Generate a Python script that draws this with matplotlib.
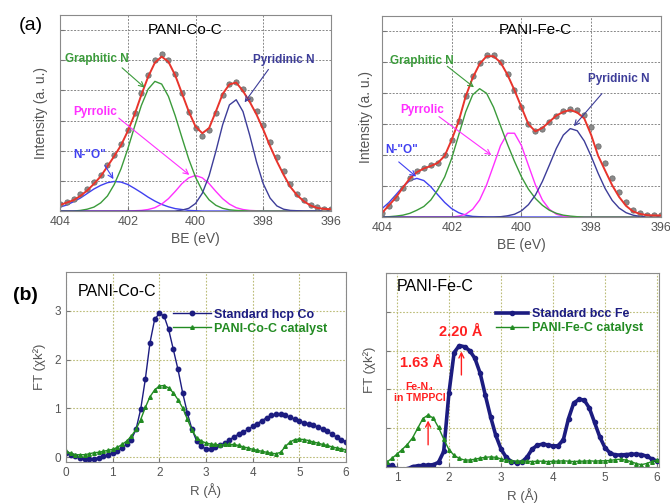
import numpy as np
import matplotlib
matplotlib.use("Agg")
import matplotlib.pyplot as plt

plt.rcParams['font.family'] = ['Liberation Sans', 'DejaVu Sans']

# ---------------- (a) XPS N1s ----------------
be = [404.0, 403.8, 403.6, 403.4, 403.2, 403.0, 402.8, 402.6, 402.4, 402.2,
      402.0, 401.8, 401.6, 401.4, 401.2, 401.0, 400.8, 400.6, 400.4, 400.2,
      400.0, 399.8, 399.6, 399.4, 399.2, 399.0, 398.8, 398.6, 398.4, 398.2,
      398.0, 397.8, 397.6, 397.4, 397.2, 397.0, 396.8, 396.6, 396.4, 396.2,
      396.0]

# PANI-Co-C
co_dots = [0.22, 0.30, 0.40, 0.55, 0.72, 0.95, 1.20, 1.52, 1.86, 2.22,
           2.70, 3.25, 3.90, 4.52, 5.00, 5.22, 5.02, 4.55, 3.92, 3.30,
           2.75, 2.50, 2.68, 3.25, 3.86, 4.20, 4.28, 4.05, 3.72, 3.32,
           2.85, 2.30, 1.80, 1.32, 0.90, 0.58, 0.35, 0.20, 0.12, 0.08,
           0.07]
co_fit = [0.20, 0.28, 0.36, 0.50, 0.68, 0.90, 1.15, 1.48, 1.82, 2.18,
          2.65, 3.20, 3.85, 4.45, 4.92, 5.12, 4.95, 4.50, 3.90, 3.30,
          2.80, 2.58, 2.75, 3.30, 3.88, 4.20, 4.26, 3.98, 3.62, 3.20,
          2.70, 2.15, 1.65, 1.20, 0.80, 0.52, 0.32, 0.18, 0.10, 0.07,
          0.06]
co_graph = [0.00, 0.00, 0.00, 0.02, 0.06, 0.13, 0.27, 0.50, 0.88, 1.40,
            2.06, 2.80, 3.50, 4.04, 4.30, 4.21, 3.80, 3.16, 2.43, 1.72,
            1.12, 0.67, 0.37, 0.19, 0.09, 0.04, 0.02, 0.01, 0.00, 0.00,
            0.00, 0.00, 0.00, 0.00, 0.00, 0.00, 0.00, 0.00, 0.00, 0.00,
            0.00]
co_no = [0.13, 0.20, 0.31, 0.43, 0.58, 0.73, 0.85, 0.94, 0.98, 0.96,
         0.88, 0.75, 0.61, 0.46, 0.33, 0.22, 0.14, 0.08, 0.05, 0.02,
         0.01, 0.00, 0.00, 0.00, 0.00, 0.00, 0.00, 0.00, 0.00, 0.00,
         0.00, 0.00, 0.00, 0.00, 0.00, 0.00, 0.00, 0.00, 0.00, 0.00,
         0.00]
co_pyrr = [0.00, 0.00, 0.00, 0.00, 0.00, 0.00, 0.00, 0.00, 0.00, 0.00,
           0.00, 0.01, 0.02, 0.05, 0.11, 0.23, 0.41, 0.65, 0.91, 1.10,
           1.18, 1.10, 0.91, 0.65, 0.41, 0.23, 0.11, 0.05, 0.02, 0.01,
           0.00, 0.00, 0.00, 0.00, 0.00, 0.00, 0.00, 0.00, 0.00, 0.00,
           0.00]
co_pyri = [0.00, 0.00, 0.00, 0.00, 0.00, 0.00, 0.00, 0.00, 0.00, 0.00,
           0.00, 0.00, 0.00, 0.00, 0.00, 0.00, 0.00, 0.00, 0.03, 0.09,
           0.25, 0.59, 1.17, 1.98, 2.86, 3.52, 3.69, 3.30, 2.51, 1.63,
           0.90, 0.43, 0.17, 0.06, 0.02, 0.01, 0.00, 0.00, 0.00, 0.00,
           0.00]

# PANI-Fe-C
fe_dots = [0.12, 0.35, 0.62, 0.95, 1.26, 1.48, 1.60, 1.68, 1.76, 2.00,
           2.50, 3.12, 3.92, 4.55, 4.98, 5.25, 5.25, 5.02, 4.62, 4.10,
           3.55, 3.00, 2.77, 2.86, 3.06, 3.27, 3.42, 3.50, 3.45, 3.30,
           2.90, 2.30, 1.75, 1.25, 0.82, 0.48, 0.24, 0.12, 0.07, 0.05,
           0.05]
fe_fit = [0.13, 0.38, 0.63, 0.95, 1.25, 1.45, 1.57, 1.65, 1.75, 1.98,
          2.50, 3.10, 3.90, 4.50, 4.95, 5.20, 5.20, 5.00, 4.60, 4.10,
          3.55, 3.00, 2.77, 2.88, 3.08, 3.28, 3.40, 3.46, 3.38, 3.19,
          2.65, 1.98, 1.50, 1.03, 0.65, 0.36, 0.18, 0.10, 0.06, 0.05,
          0.05]
fe_graph = [0.00, 0.01, 0.03, 0.06, 0.12, 0.22, 0.34, 0.55, 0.88, 1.30,
            1.90, 2.65, 3.40, 3.95, 4.15, 4.00, 3.55, 2.95, 2.35, 1.80,
            1.30, 0.90, 0.60, 0.38, 0.22, 0.12, 0.06, 0.03, 0.01, 0.00,
            0.00, 0.00, 0.00, 0.00, 0.00, 0.00, 0.00, 0.00, 0.00, 0.00,
            0.00]
fe_no = [0.27, 0.47, 0.72, 0.98, 1.18, 1.25, 1.18, 0.98, 0.72, 0.47,
         0.27, 0.14, 0.06, 0.02, 0.01, 0.00, 0.00, 0.00, 0.00, 0.00,
         0.00, 0.00, 0.00, 0.00, 0.00, 0.00, 0.00, 0.00, 0.00, 0.00,
         0.00, 0.00, 0.00, 0.00, 0.00, 0.00, 0.00, 0.00, 0.00, 0.00,
         0.00]
fe_pyrr = [0.00, 0.00, 0.00, 0.00, 0.00, 0.00, 0.00, 0.00, 0.00, 0.00,
           0.00, 0.03, 0.09, 0.25, 0.55, 1.04, 1.67, 2.31, 2.71, 2.71,
           2.31, 1.67, 1.04, 0.55, 0.25, 0.09, 0.03, 0.01, 0.00, 0.00,
           0.00, 0.00, 0.00, 0.00, 0.00, 0.00, 0.00, 0.00, 0.00, 0.00,
           0.00]
fe_pyri = [0.00, 0.00, 0.00, 0.00, 0.00, 0.00, 0.00, 0.00, 0.00, 0.00,
           0.00, 0.00, 0.00, 0.00, 0.00, 0.00, 0.00, 0.01, 0.04, 0.09,
           0.20, 0.40, 0.71, 1.15, 1.68, 2.22, 2.65, 2.86, 2.79, 2.46,
           1.96, 1.41, 0.92, 0.54, 0.29, 0.14, 0.06, 0.02, 0.01, 0.00,
           0.00]

# ---------------- (b) EXAFS FT ----------------
r_co = [0.0, 0.1, 0.2, 0.3, 0.4, 0.5, 0.6, 0.7, 0.8, 0.9, 1.0, 1.1, 1.2, 1.3,
        1.4, 1.5, 1.6, 1.7, 1.8, 1.9, 2.0, 2.1, 2.2, 2.3, 2.4, 2.5, 2.6, 2.7,
        2.8, 2.9, 3.0, 3.1, 3.2, 3.3, 3.4, 3.5, 3.6, 3.7, 3.8, 3.9, 4.0, 4.1,
        4.2, 4.3, 4.4, 4.5, 4.6, 4.7, 4.8, 4.9, 5.0, 5.1, 5.2, 5.3, 5.4, 5.5,
        5.6, 5.7, 5.8, 5.9, 6.0]
hcp_co = [0.09, 0.05, 0.02, -0.02, -0.04, -0.04, -0.03, -0.01, 0.02, 0.05,
          0.09, 0.13, 0.19, 0.26, 0.36, 0.57, 0.98, 1.60, 2.35, 2.83,
          2.95, 2.90, 2.62, 2.21, 1.80, 1.32, 0.91, 0.57, 0.33, 0.22,
          0.17, 0.17, 0.20, 0.24, 0.29, 0.35, 0.42, 0.47, 0.52, 0.57,
          0.63, 0.69, 0.75, 0.81, 0.86, 0.88, 0.88, 0.86, 0.82, 0.78,
          0.74, 0.71, 0.68, 0.65, 0.62, 0.58, 0.53, 0.47, 0.41, 0.36,
          0.32]
cat_co = [0.12, 0.08, 0.05, 0.05, 0.05, 0.07, 0.09, 0.10, 0.12, 0.14,
          0.16, 0.20, 0.26, 0.33, 0.43, 0.57, 0.77, 1.02, 1.24, 1.38,
          1.46, 1.47, 1.42, 1.32, 1.18, 1.01, 0.78, 0.55, 0.40, 0.33,
          0.29, 0.27, 0.26, 0.25, 0.26, 0.26, 0.26, 0.24, 0.21, 0.19,
          0.16, 0.14, 0.12, 0.10, 0.08, 0.07, 0.10, 0.22, 0.31, 0.36,
          0.37, 0.36, 0.34, 0.31, 0.29, 0.26, 0.24, 0.21, 0.19, 0.17,
          0.15]

r_fe = [0.8, 0.9, 1.0, 1.1, 1.2, 1.3, 1.4, 1.5, 1.6, 1.7, 1.8, 1.9, 2.0, 2.1,
        2.2, 2.3, 2.4, 2.5, 2.6, 2.7, 2.8, 2.9, 3.0, 3.1, 3.2, 3.3, 3.4, 3.5,
        3.6, 3.7, 3.8, 3.9, 4.0, 4.1, 4.2, 4.3, 4.4, 4.5, 4.6, 4.7, 4.8, 4.9,
        5.0, 5.1, 5.2, 5.3, 5.4, 5.5, 5.6, 5.7, 5.8, 5.9, 6.0]
bcc_fe = [0.05, 0.04, -0.05, -0.08, -0.05, 0.01, 0.03, 0.04, 0.05, 0.06,
          0.12, 0.40, 1.90, 2.95, 3.13, 3.10, 3.00, 2.80, 2.42, 1.85,
          1.30, 0.82, 0.47, 0.25, 0.14, 0.11, 0.13, 0.25, 0.46, 0.56,
          0.59, 0.57, 0.54, 0.55, 0.70, 1.25, 1.65, 1.74, 1.73, 1.52,
          1.15, 0.78, 0.50, 0.36, 0.31, 0.31, 0.32, 0.33, 0.33, 0.32,
          0.28, 0.21, 0.15]
cat_fe = [0.12, 0.22, 0.33, 0.45, 0.58, 0.75, 1.00, 1.25, 1.34, 1.26,
          1.02, 0.72, 0.45, 0.30, 0.22, 0.18, 0.18, 0.20, 0.23, 0.25,
          0.26, 0.25, 0.21, 0.18, 0.16, 0.15, 0.15, 0.15, 0.14, 0.15,
          0.15, 0.14, 0.15, 0.15, 0.16, 0.15, 0.14, 0.15, 0.15, 0.16,
          0.15, 0.16, 0.16, 0.17, 0.19, 0.20, 0.18, 0.14, 0.09, 0.06,
          0.09, 0.14, 0.18]

# colours
c_fit = '#e8342c'
c_dot = '#8a8a8a'
c_graph = '#3b9b3b'
c_pyri = '#3d3d99'
c_no = '#4040f0'
c_pyrr = '#ff30ff'
c_navy = '#1c1c80'
c_green = '#228b22'
grey_txt = '#555555'


def xps_panel(ax, dots, fit, graph, no, pyrr, pyri, title, labels, lpad):
    ax.plot(be, no, color=c_no, lw=1.0)
    ax.plot(be, pyrr, color=c_pyrr, lw=1.0)
    ax.plot(be, graph, color=c_graph, lw=1.0)
    ax.plot(be, pyri, color=c_pyri, lw=1.0)
    ax.plot(be, dots, 'o', color=c_dot, mec='#6f6f6f', ms=3.8, mew=0.6)
    ax.plot(be, fit, color=c_fit, lw=1.4)
    ax.set_xlim(404, 396)
    ax.set_ylim(0, 6.5)
    ax.set_xticks([404, 402, 400, 398, 396])
    ax.set_yticks([0, 1, 2, 3, 4, 5, 6])
    ax.set_yticklabels([])
    ax.grid(True, color='#888888', ls=(0, (2, 1.5)), lw=0.7)
    ax.tick_params(direction='in', length=3, colors='#777777',
                   labelcolor=grey_txt, labelsize=9)
    for s in ax.spines.values():
        s.set_color('#8a8a8a')
    ax.set_xlabel('BE (eV)', fontsize=10, color=grey_txt, labelpad=3)
    ax.set_ylabel('Intensity (a. u.)', fontsize=10, color=grey_txt,
                  labelpad=lpad)
    ax.text(title[1], title[2], title[0], fontsize=11, ha='center',
            va='center', color='black')
    for txt, col, pos, start, end in labels:
        ax.text(pos[0], pos[1], txt, color=col, fontsize=8.5,
                fontweight='bold', ha='left', va='center')
        ax.annotate('', xy=end, xytext=start,
                    arrowprops=dict(arrowstyle='->', color=col, lw=0.8,
                                    mutation_scale=9))


fig = plt.figure(figsize=(6.7, 5.04), dpi=100)

ax1 = fig.add_axes([0.0896, 0.5813, 0.4045, 0.3889])
xps_panel(ax1, co_dots, co_fit, co_graph, co_no, co_pyrr, co_pyri,
          ('PANI-Co-C', 400.3, 6.0),
          [('Graphitic N', c_graph, (403.85, 5.03), (402.23, 4.81), (401.44, 4.03)),
           ('Pyridinic N', c_pyri, (398.3, 5.0), (397.8, 4.77), (398.6, 3.53)),
           ('Pyrrolic', c_pyrr, (403.62, 3.3), (402.33, 3.14), (400.12, 1.14)),
           ('N-"O"', c_no, (403.62, 1.87), (402.72, 1.59), (402.38, 0.98))],
          5)

ax2 = fig.add_axes([0.5701, 0.5694, 0.4164, 0.3988])
xps_panel(ax2, fe_dots, fe_fit, fe_graph, fe_no, fe_pyrr, fe_pyri,
          ('PANI-Fe-C', 399.6, 6.06),
          [('Graphitic N', c_graph, (403.77, 5.06), (402.19, 4.93), (401.3, 4.14)),
           ('Pyridinic N', c_pyri, (398.08, 4.47), (397.64, 4.06), (398.55, 2.87)),
           ('Pyrrolic', c_pyrr, (403.48, 3.46), (402.43, 3.30), (400.8, 1.95)),
           ('N-"O"', c_no, (403.91, 2.17), (403.58, 1.84), (402.96, 1.25))],
          3)


def ft_style(ax):
    ax.grid(True, color='#bcbc78', ls=(0, (1.5, 1.5)), lw=0.8)
    ax.tick_params(direction='in', length=3, colors='#777777',
                   labelcolor=grey_txt, labelsize=8.5)
    for s in ax.spines.values():
        s.set_color('#8a8a8a')
    ax.set_xlabel('R (Å)', fontsize=9.5, color=grey_txt, labelpad=3)


ax3 = fig.add_axes([0.0985, 0.0833, 0.4179, 0.3770])
ax3.plot(r_co, hcp_co, '-o', color=c_navy, lw=1.0, ms=3.2,
         label='Standard hcp Co')
ax3.plot(r_co, cat_co, '-^', color=c_green, lw=1.0, ms=2.6,
         label='PANI-Co-C catalyst')
ax3.set_xlim(0, 6)
ax3.set_ylim(-0.1, 3.8)
ax3.set_xticks([0, 1, 2, 3, 4, 5, 6])
ax3.set_yticks([0, 1, 2, 3])
ft_style(ax3)
ax3.set_ylabel('FT (χk²)', fontsize=9.5, color=grey_txt, labelpad=6)
ax3.text(0.25, 3.4, 'PANI-Co-C', fontsize=11.5, ha='left', va='center')
leg3 = ax3.legend(loc='upper left', bbox_to_anchor=(0.36, 0.84), frameon=False,
                  handlelength=3.0, handletextpad=0.3, labelspacing=0.15,
                  borderpad=0, numpoints=1, prop={'weight': 'bold', 'size': 9})
for t, c in zip(leg3.get_texts(), [c_navy, c_green]):
    t.set_color(c)

ax4 = fig.add_axes([0.5761, 0.0734, 0.4075, 0.3849])
ax4.plot(r_fe, bcc_fe, '-o', color=c_navy, lw=2.6, ms=3.0,
         label='Standard bcc Fe')
ax4.plot(r_fe, cat_fe, '-^', color=c_green, lw=1.0, ms=2.6,
         label='PANI-Fe-C catalyst')
ax4.set_xlim(0.79, 6.04)
ax4.set_ylim(0, 5)
ax4.set_xticks([1, 2, 3, 4, 5, 6])
ax4.set_yticks([0, 1, 2, 3, 4, 5])
ax4.set_yticklabels([])
ft_style(ax4)
ax4.set_ylabel('FT (χk²)', fontsize=9.5, color=grey_txt, labelpad=4)
ax4.text(1.0, 4.64, 'PANI-Fe-C', fontsize=11.5, ha='left', va='center')
leg4 = ax4.legend(loc='upper left', bbox_to_anchor=(0.38, 0.85), frameon=False,
                  handlelength=2.6, handletextpad=0.3, labelspacing=0.15,
                  borderpad=0, numpoints=1, prop={'weight': 'bold', 'size': 9})
for t, c in zip(leg4.get_texts(), [c_navy, c_green]):
    t.set_color(c)

red = '#ff2020'
ax4.text(2.23, 3.49, '2.20 Å', color=red, fontsize=10.5, fontweight='bold',
         ha='center', va='center')
ax4.text(1.48, 2.68, '1.63 Å', color=red, fontsize=10.5, fontweight='bold',
         ha='center', va='center')
ax4.text(1.44, 1.93, 'Fe-N₄\nin TMPPCl', color=red, fontsize=7.5,
         fontweight='bold', ha='center', va='center', linespacing=1.1)
ax4.annotate('', xy=(2.24, 3.05), xytext=(2.24, 2.3),
             arrowprops=dict(arrowstyle='->', color=red, lw=1.0, mutation_scale=9))
ax4.annotate('', xy=(1.60, 1.27), xytext=(1.60, 0.5),
             arrowprops=dict(arrowstyle='->', color=red, lw=1.0, mutation_scale=9))

fig.text(31 / 670, 1 - 25 / 504, '(a)', fontsize=14, ha='center', va='center')
fig.text(25 / 670, 1 - 296 / 504, '(b)', fontsize=14, fontweight='bold',
         ha='center', va='center')

fig.savefig('out.png', dpi=100)
